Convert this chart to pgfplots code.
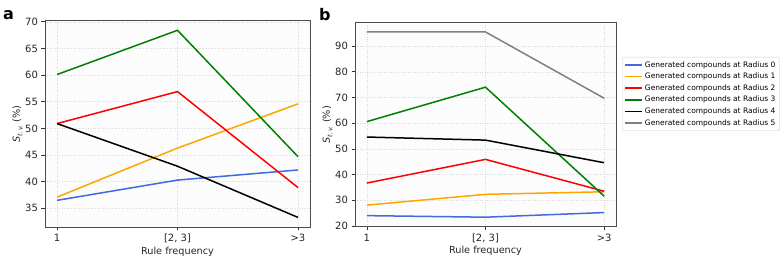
\documentclass[border=0pt]{standalone}
\usepackage{pgfplots}
\pgfplotsset{compat=1.18}
\usepackage{fontspec}
\setmainfont{DejaVu Sans}
\definecolor{cblue}{HTML}{4169E1}
\definecolor{corange}{HTML}{FFA500}
\definecolor{cred}{HTML}{FF0000}
\definecolor{cgreen}{HTML}{008000}
\definecolor{cgray}{HTML}{808080}
\pgfplotsset{
  panel/.style={
    scale only axis,
    xmin=-0.1, xmax=2.1,
    xtick={0,1,2},
    xticklabels={1,{[2, 3]},>3},
    xlabel={Rule frequency},
    ylabel={{\itshape S}\raisebox{-0.45ex}{\fontsize{6.5}{7}\selectfont\itshape t.\,v.}\ (\%)},
    tick style={color=black!80, line width=0.6pt},
    tick align=outside,
    tick pos=left,
    major tick length=3.5pt,
    axis line style={black!70, line width=0.8pt},
    grid=major,
    grid style={dotted, black!15, line width=0.5pt},
    axis background/.style={fill=black!1},
    ticklabel style={font=\fontsize{10}{12}\selectfont, text=black!85},
    /pgf/number format/assume math mode=true,
    label style={font=\fontsize{9.7}{11}\selectfont, text=black!85},
    xlabel style={yshift=3pt},
    ylabel style={yshift=-4pt},
    no markers,
  },
  ln/.style={line width=1.5pt},
}
\begin{document}
\begin{tikzpicture}
\useasboundingbox (0pt,0pt) rectangle (784pt,259pt);
\begin{axis}[panel,
  at={(45pt,32pt)}, anchor=south west,
  width=265pt, height=206.3pt,
  ymin=31.5, ymax=70.2,
  ytick={35,40,...,70},
]
\addplot[cblue, ln] coordinates {(0,36.5) (1,40.3) (2,42.2)};
\addplot[corange, ln] coordinates {(0,37.1) (1,46.3) (2,54.6)};
\addplot[cred, ln] coordinates {(0,50.9) (1,56.9) (2,38.9)};
\addplot[cgreen, ln] coordinates {(0,60.1) (1,68.4) (2,44.7)};
\addplot[black, ln] coordinates {(0,50.9) (1,42.9) (2,33.3)};
\end{axis}
\node[anchor=west, font=\bfseries\fontsize{16}{18}\selectfont, inner sep=0pt] at (3pt,244pt) {a};
\begin{axis}[panel,
  at={(355pt,32.3pt)}, anchor=south west,
  width=261pt, height=204pt,
  ymin=19.7, ymax=99.1,
  ytick={20,30,...,90},
  legend style={at={(rel axis cs:1.023,0.832)}, anchor=north west,
    font=\fontsize{7.5}{9}\selectfont, draw=black!20, rounded corners=1.5pt,
    row sep=0.4pt, inner sep=2.2pt},
  legend cell align=left,
]
\addplot[cblue, ln] coordinates {(0,24.0) (1,23.4) (2,25.2)};
\addlegendentry{Generated compounds at Radius 0}
\addplot[corange, ln] coordinates {(0,28.1) (1,32.3) (2,33.3)};
\addlegendentry{Generated compounds at Radius 1}
\addplot[cred, ln] coordinates {(0,36.7) (1,45.9) (2,33.5)};
\addlegendentry{Generated compounds at Radius 2}
\addplot[cgreen, ln] coordinates {(0,60.6) (1,74.0) (2,31.6)};
\addlegendentry{Generated compounds at Radius 3}
\addplot[black, ln] coordinates {(0,54.6) (1,53.4) (2,44.6)};
\addlegendentry{Generated compounds at Radius 4}
\addplot[cgray, ln] coordinates {(0,95.5) (1,95.5) (2,69.7)};
\addlegendentry{Generated compounds at Radius 5}
\end{axis}
\node[anchor=west, font=\bfseries\fontsize{16}{18}\selectfont, inner sep=0pt] at (319pt,244pt) {b};
\end{tikzpicture}
\end{document}
